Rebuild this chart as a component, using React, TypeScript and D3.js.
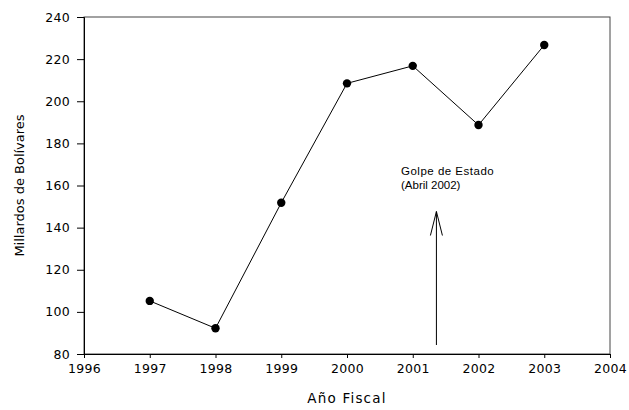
import { useEffect, useRef } from "react";
import * as d3 from "d3";

const years = [1997, 1998, 1999, 2000, 2001, 2002, 2003];
const values = [105.2, 92.2, 151.8, 208.5, 216.8, 188.7, 226.7];
const xTicks = [1996, 1997, 1998, 1999, 2000, 2001, 2002, 2003, 2004];
const yTicks = [80, 100, 120, 140, 160, 180, 200, 220, 240];
const annotationYear = 2001.36;
const annotationLines = ["Golpe de Estado", "(Abril 2002)"];

const WIDTH = 629;
const HEIGHT = 410;
const margin = { top: 17, right: 19, bottom: 56, left: 84 };
const TICK_FONT = "'DejaVu Sans', Verdana, sans-serif";

export default function App() {
  const svgRef = useRef<SVGSVGElement>(null);

  useEffect(() => {
    if (!svgRef.current) return;
    const svg = d3.select(svgRef.current);
    svg.selectAll("*").remove();

    const x = d3
      .scaleLinear()
      .domain([1996, 2004])
      .range([margin.left, WIDTH - margin.right]);
    const y = d3
      .scaleLinear()
      .domain([80, 240])
      .range([HEIGHT - margin.bottom, margin.top]);

    // frame (top and right)
    svg
      .append("rect")
      .attr("x", x(1996))
      .attr("y", y(240))
      .attr("width", x(2004) - x(1996))
      .attr("height", y(80) - y(240))
      .attr("fill", "none")
      .attr("stroke", "#444")
      .attr("stroke-width", 1);

    const xAxis = svg
      .append("g")
      .attr("transform", `translate(0,${y(80)})`)
      .call(
        d3
          .axisBottom(x)
          .tickValues(xTicks)
          .tickFormat(d3.format("d"))
          .tickSizeOuter(0)
          .tickSize(4)
          .tickPadding(6),
      );
    xAxis.select(".domain").attr("stroke", "#000");
    xAxis
      .selectAll("text")
      .attr("font-family", TICK_FONT)
      .attr("font-size", 12.5)
      .attr("letter-spacing", 0.3)
      .attr("fill", "#000");

    const yAxis = svg
      .append("g")
      .attr("transform", `translate(${x(1996)},0)`)
      .call(
        d3
          .axisLeft(y)
          .tickValues(yTicks)
          .tickSizeOuter(0)
          .tickSize(7)
          .tickPadding(7),
      );
    yAxis.select(".domain").attr("stroke", "#000");
    yAxis
      .selectAll("text")
      .attr("font-family", TICK_FONT)
      .attr("font-size", 12.5)
      .attr("letter-spacing", 0.3)
      .attr("fill", "#000");

    // axis titles
    svg
      .append("text")
      .attr("x", (x(1996) + x(2004)) / 2)
      .attr("y", 403)
      .attr("text-anchor", "middle")
      .attr("font-family", TICK_FONT)
      .attr("font-size", 13.5)
      .attr("letter-spacing", 1.2)
      .text("Año Fiscal");

    svg
      .append("text")
      .attr("transform", `translate(24,${(y(80) + y(240)) / 2}) rotate(-90)`)
      .attr("text-anchor", "middle")
      .attr("font-family", TICK_FONT)
      .attr("font-size", 13)
      .text("Millardos de Bolívares");

    // data line
    const line = d3
      .line<number>()
      .x((_, i) => x(years[i]))
      .y((d) => y(d));
    svg
      .append("path")
      .datum(values)
      .attr("d", line)
      .attr("fill", "none")
      .attr("stroke", "#000")
      .attr("stroke-width", 1);

    svg
      .selectAll("circle.pt")
      .data(values)
      .join("circle")
      .attr("class", "pt")
      .attr("cx", (_, i) => x(years[i]))
      .attr("cy", (d) => y(d))
      .attr("r", 4.2)
      .attr("fill", "#000");

    // annotation arrow
    const ax = x(annotationYear);
    const tipY = 211.5;
    const g = svg
      .append("g")
      .attr("stroke", "#000")
      .attr("stroke-width", 1)
      .attr("fill", "none");
    g.append("line")
      .attr("x1", ax)
      .attr("x2", ax)
      .attr("y1", 345)
      .attr("y2", tipY);
    g.append("path").attr(
      "d",
      `M${ax - 6},${tipY + 24} L${ax},${tipY} L${ax + 6},${tipY + 24}`,
    );

    svg
      .append("text")
      .attr("x", 401)
      .attr("font-family", "'Liberation Sans', Arial, sans-serif")
      .attr("font-size", 11.5)
      .attr("fill", "#000")
      .selectAll("tspan")
      .data(annotationLines)
      .join("tspan")
      .attr("x", 401)
      .attr("y", (_, i) => 175 + i * 14)
      .attr("letter-spacing", (_, i) => (i === 0 ? 0.5 : 0))
      .text((d) => d);
  }, []);

  return (
    <svg
      ref={svgRef}
      width={WIDTH}
      height={HEIGHT}
      style={{ position: "absolute", left: 0, top: 0, background: "#fff" }}
    />
  );
}
